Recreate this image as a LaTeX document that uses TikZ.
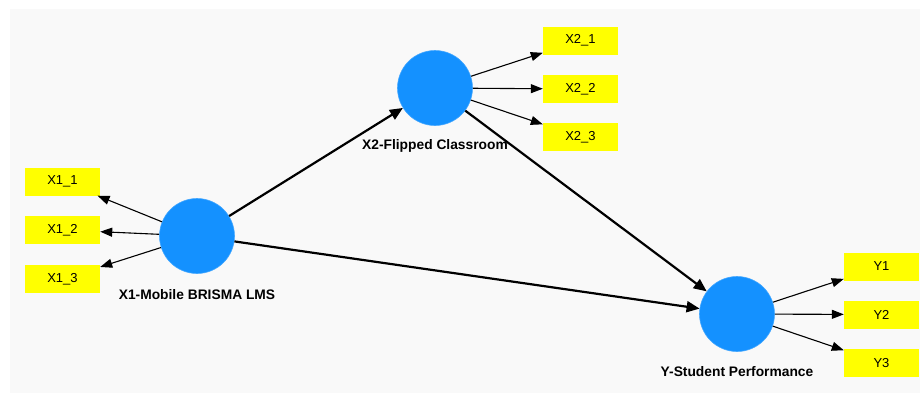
\documentclass[tikz,border=0pt]{standalone}
\usepackage{fontspec}
\setmainfont{Liberation Sans}
\usetikzlibrary{arrows.meta}
\definecolor{bgray}{RGB}{249,249,249}
\definecolor{lvblue}{RGB}{20,145,255}
\definecolor{indyel}{RGB}{255,255,0}
\tikzset{
  latent/.style={circle, fill=lvblue, draw=lvblue!80!white, line width=0.6pt, minimum size=75pt, inner sep=0pt},
  indbox/.style={rectangle, fill=indyel, minimum width=75pt, minimum height=28pt, inner sep=0pt, font=\fontsize{13}{15}\selectfont},
  latlabel/.style={font=\fontsize{13.8}{16}\selectfont\bfseries, inner sep=0pt},
  loadarr/.style={line width=1.1pt, -{Triangle[length=12pt,width=9pt]}},
  patharr/.style={line width=2.2pt, -{Triangle[length=13pt,width=11pt]}}
}
\begin{document}
\begin{tikzpicture}[x=1pt,y=-1pt]
\useasboundingbox (0,0) rectangle (920,394);
\fill[white] (0,0) rectangle (920,394);
\fill[bgray] (10,9) rectangle (920,393);

% latent variables
\node[latent] (x1) at (197,236) {};
\node[latent] (x2) at (435,88) {};
\node[latent] (y) at (737,314) {};

% labels
\node[latlabel] (x1lab) at (197,295) {X1-Mobile BRISMA LMS};
\node[latlabel] (x2lab) at (435,146) {X2-Flipped Classroom};
\node[latlabel] (ylab) at (737,372) {Y-Student Performance};

% indicators
\node[indbox] (x11) at (62.5,181.5) {X1\_1};
\node[indbox] (x12) at (62.5,230) {X1\_2};
\node[indbox] (x13) at (62.5,279) {X1\_3};
\node[indbox] (x21) at (580.5,40.5) {X2\_1};
\node[indbox] (x22) at (580.5,89) {X2\_2};
\node[indbox] (x23) at (580.5,137) {X2\_3};
\node[indbox] (y1) at (881.5,266.5) {Y1};
\node[indbox] (y2) at (881.5,314.5) {Y2};
\node[indbox] (y3) at (881.5,363) {Y3};

% loadings
\draw[loadarr] (x1) -- (x11);
\draw[loadarr] (x1) -- (x12);
\draw[loadarr] (x1) -- (x13);
\draw[loadarr] (x2) -- (x21);
\draw[loadarr] (x2) -- (x22);
\draw[loadarr] (x2) -- (x23);
\draw[loadarr] (y) -- (y1);
\draw[loadarr] (y) -- (y2);
\draw[loadarr] (y) -- (y3);

% paths
\draw[patharr] (x1) -- (x2);
\draw[patharr] (x1) -- (y);
\draw[patharr] (x2) -- (y);
\end{tikzpicture}
\end{document}
